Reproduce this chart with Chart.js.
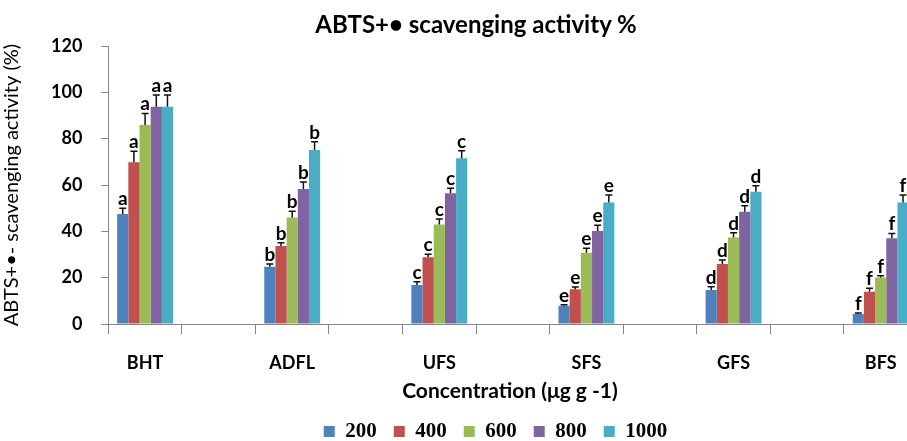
<!DOCTYPE html>
<html>
<head>
<meta charset="utf-8">
<script src="https://cdn.jsdelivr.net/npm/chart.js@4"></script>
<style>
  body { margin: 0; background: #fff; }
  #frame { position: relative; width: 907px; height: 441px; overflow: hidden; }
  #box { position: absolute; left: 0; top: 0; width: 1004px; height: 452px; }
  .ttl { position: absolute; font-family: Lato, "Open Sans", sans-serif; color: #000; white-space: nowrap; transform: translateX(-50%); }
  #mainTitle { left: 476px; top: 9px; font-size: 24px; font-weight: bold; }
  #xTitle { left: 510px; top: 377px; font-size: 21px; font-weight: bold; }
</style>
</head>
<body>
<div id="frame">
  <div id="box"><canvas id="chart"></canvas></div>
  <div id="mainTitle" class="ttl">ABTS+• scavenging activity %</div>
  <div id="xTitle" class="ttl">Concentration (μg g -1)</div>
</div>
<script>
const groups = ["BHT", "ADFL", "UFS", "SFS", "GFS", "BFS"];
const letters = ["a", "b", "c", "e", "d", "f"];
const series = ["200", "400", "600", "800", "1000"];
const colors = ["#4F81BD", "#C0504D", "#9BBB59", "#8064A2", "#4BACC6"];

const v200 = [47.5, 24.7, 16.8, 7.9, 14.7, 4.3];
const v400 = [69.8, 33.7, 28.8, 15.0, 25.9, 13.9];
const v600 = [85.9, 46.0, 43.0, 30.8, 37.3, 20.1];
const v800 = [93.8, 58.3, 56.4, 40.1, 48.5, 37.0];
const v1000 = [93.8, 75.1, 71.5, 52.5, 57.1, 52.5];

const e200 = [2.5, 1.2, 1.4, 0.4, 1.4, 0.4];
const e400 = [4.8, 1.4, 1.3, 1.0, 1.7, 1.5];
const e600 = [5.0, 2.7, 2.3, 1.9, 2.1, 0.7];
const e800 = [5.0, 3.0, 2.2, 2.5, 2.5, 2.1];
const e1000 = [5.0, 3.6, 3.3, 3.2, 2.6, 3.2];

const values = [v200, v400, v600, v800, v1000];
const errors = [e200, e400, e600, e800, e1000];

// each group is followed by an empty slot, like the original axis
const labels = [];
groups.forEach(g => labels.push(g, ""));
const spread = arr => {
  const out = [];
  arr.forEach(v => out.push(v, null));
  return out;
};

const errorBars = {
  id: "errorBars",
  afterDatasetsDraw(chart) {
    const ctx = chart.ctx;
    const y = chart.scales.y;
    ctx.save();
    chart.data.datasets.forEach((ds, i) => {
      chart.getDatasetMeta(i).data.forEach((bar, j) => {
        if (ds.data[j] == null) return;
        const g = j / 2;
        const top = y.getPixelForValue(ds.data[j] + errors[i][g]);
        ctx.strokeStyle = "#111";
        ctx.lineWidth = 1.5;
        ctx.beginPath();
        ctx.moveTo(bar.x, bar.y);
        ctx.lineTo(bar.x, top);
        ctx.moveTo(bar.x - 3.5, top);
        ctx.lineTo(bar.x + 3.5, top);
        ctx.stroke();
        ctx.fillStyle = "#000";
        ctx.font = "bold 19px Lato, sans-serif";
        ctx.textAlign = "center";
        ctx.textBaseline = "alphabetic";
        ctx.fillText(letters[g], bar.x, top - 3);
      });
    });
    ctx.restore();
  }
};

new Chart(document.getElementById("chart"), {
  type: "bar",
  data: {
    labels,
    datasets: series.map((s, i) => ({
      label: s,
      data: spread(values[i]),
      backgroundColor: colors[i],
      categoryPercentage: 0.76,
      barPercentage: 1
    }))
  },
  options: {
    responsive: true,
    maintainAspectRatio: false,
    animation: false,
    layout: { padding: { top: 46, right: 13, left: 0, bottom: 0 } },
    plugins: {
      tooltip: { enabled: false },
      legend: {
        position: "bottom",
        labels: {
          boxWidth: 11,
          boxHeight: 11,
          padding: 17,
          color: "#000",
          font: { family: "'Liberation Serif', serif", size: 21, weight: "bold" }
        }
      }
    },
    scales: {
      x: {
        afterFit(scale) { scale.height = 80; },
        grid: { drawOnChartArea: false, tickLength: 10, color: "#868686" },
        border: { color: "#868686" },
        ticks: {
          autoSkip: false,
          maxRotation: 0,
          padding: 18,
          color: "#000",
          font: { family: "Lato, sans-serif", size: 18, weight: "bold" }
        }
      },
      y: {
        min: 0,
        max: 120,
        grid: { drawOnChartArea: false, tickLength: 7, color: "#868686" },
        border: { color: "#868686" },
        ticks: {
          stepSize: 20,
          padding: 19,
          color: "#000",
          font: { family: "Lato, sans-serif", size: 18, weight: "bold" }
        },
        title: {
          display: true,
          text: "ABTS+•- scavenging activity (%)",
          color: "#000",
          padding: { top: 0, bottom: 8 },
          font: { family: "Lato, sans-serif", size: 20 }
        }
      }
    }
  },
  plugins: [errorBars]
});
</script>
</body>
</html>
